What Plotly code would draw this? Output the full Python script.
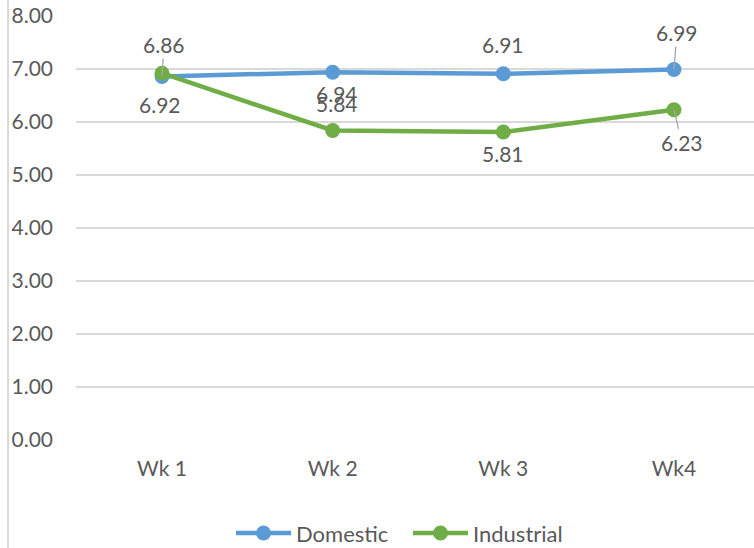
import plotly.graph_objects as go

weeks = ["Wk 1", "Wk 2", "Wk 3", "Wk4"]
domestic = [6.86, 6.94, 6.91, 6.99]
industrial = [6.92, 5.84, 5.81, 6.23]

# label offsets in pixels (ax, ay) from each point, and whether a leader line is drawn
dom_offsets = [(2, -32, True), (4, 21, False), (0, -29, False), (3, -37, True)]
ind_offsets = [(-2, 31, False), (4, -27, False), (0, 21, False), (8, 33, True)]

BLUE = "#5B9BD5"
GREEN = "#70AD47"
TEXT = "#595959"
GRID = "#D9D9D9"
FONT = "Lato"

W, H = 754, 548
ML, MR, MT, MB = 76, 0, 16, 108
PW, PH = W - ML - MR, H - MT - MB


def px_x(px):
    return (px - ML) / PW


def px_y(py):
    return (H - MB - py) / PH


fig = go.Figure()
fig.add_trace(go.Scatter(
    x=weeks, y=domestic, name="Domestic", mode="lines+markers",
    line=dict(color=BLUE, width=4.5), marker=dict(color=BLUE, size=15),
))
fig.add_trace(go.Scatter(
    x=weeks, y=industrial, name="Industrial", mode="lines+markers",
    line=dict(color=GREEN, width=4.5), marker=dict(color=GREEN, size=15),
))

annotations = []
for series, offsets in ((domestic, dom_offsets), (industrial, ind_offsets)):
    for wk, val, (ax, ay, leader) in zip(weeks, series, offsets):
        annotations.append(dict(
            x=wk, y=val, xref="x", yref="y", text=f"{val:.2f}",
            showarrow=True, ax=ax, ay=ay, arrowhead=0, arrowwidth=1.3,
            arrowcolor="#A6A6A6" if leader else "rgba(0,0,0,0)",
            standoff=0, startstandoff=0,
            font=dict(family=FONT, size=21, color=TEXT),
        ))

# chart-frame rule on the left
shapes = [dict(
    type="line", xref="paper", yref="paper",
    x0=px_x(8), x1=px_x(8), y0=px_y(H + 5), y1=px_y(-5),
    line=dict(color=GRID, width=2), layer="below",
)]

# legend drawn as line + dot + label for each series
legend_y = 533
for name, color, x_start in (("Domestic", BLUE, 236), ("Industrial", GREEN, 413)):
    shapes.append(dict(
        type="line", xref="paper", yref="paper",
        x0=px_x(x_start), x1=px_x(x_start + 55),
        y0=px_y(legend_y), y1=px_y(legend_y),
        line=dict(color=color, width=4.5),
    ))
    shapes.append(dict(
        type="circle", xref="paper", yref="paper",
        xsizemode="pixel", ysizemode="pixel",
        xanchor=px_x(x_start + 27.5), yanchor=px_y(legend_y),
        x0=-7.5, x1=7.5, y0=-7.5, y1=7.5,
        fillcolor=color, line=dict(width=0),
    ))
    annotations.append(dict(
        x=px_x(x_start + 58), y=px_y(legend_y), xref="paper", yref="paper",
        xanchor="left", yanchor="middle", text=name, showarrow=False,
        font=dict(family=FONT, size=22, color=TEXT),
    ))

fig.update_layout(
    width=W, height=H,
    margin=dict(l=ML, r=MR, t=MT, b=MB, autoexpand=False),
    paper_bgcolor="white", plot_bgcolor="white",
    font=dict(family=FONT, size=21, color=TEXT),
    showlegend=False,
    annotations=annotations,
    shapes=shapes,
)
fig.update_xaxes(
    type="category", range=[-0.504, 3.469], showgrid=False, zeroline=False,
    showline=False, ticks="", ticklabelstandoff=14,
    tickfont=dict(family=FONT, size=21, color=TEXT),
)
fig.update_yaxes(
    range=[0, 8], dtick=1, tickformat=".2f", showgrid=True, gridcolor=GRID,
    gridwidth=1.5, zeroline=False, showline=False, ticks="",
    ticklabelstandoff=22, tickfont=dict(family=FONT, size=21, color=TEXT),
)

fig.write_html("out.html")
